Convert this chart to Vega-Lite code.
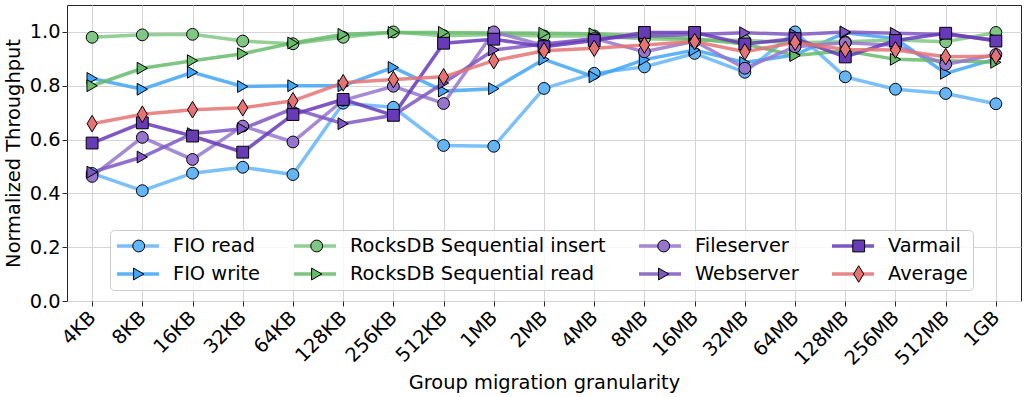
{
  "$schema": "https://vega.github.io/schema/vega-lite/v6.json",
  "width": 954,
  "height": 296,
  "autosize": {"type": "none"},
  "padding": {"left": 67, "top": 5, "right": 3, "bottom": 96},
  "config": {
    "font": "DejaVu Sans",
    "view": {"stroke": "#262626", "strokeWidth": 1},
    "axis": {
      "labelFont": "DejaVu Sans",
      "titleFont": "DejaVu Sans",
      "labelFontSize": 19.4,
      "titleFontSize": 19.4,
      "titleFontWeight": "normal",
      "labelColor": "#000000",
      "titleColor": "#000000",
      "gridColor": "#d4d4d4",
      "gridWidth": 1,
      "tickColor": "#262626",
      "tickSize": 5,
      "domain": false
    }
  },
  "data": {
    "values": [
      {"granularity": "4KB", "workload": "FIO read", "throughput": 0.474},
      {"granularity": "8KB", "workload": "FIO read", "throughput": 0.41},
      {"granularity": "16KB", "workload": "FIO read", "throughput": 0.475},
      {"granularity": "32KB", "workload": "FIO read", "throughput": 0.497},
      {"granularity": "64KB", "workload": "FIO read", "throughput": 0.47},
      {"granularity": "128KB", "workload": "FIO read", "throughput": 0.735},
      {"granularity": "256KB", "workload": "FIO read", "throughput": 0.72},
      {"granularity": "512KB", "workload": "FIO read", "throughput": 0.578},
      {"granularity": "1MB", "workload": "FIO read", "throughput": 0.575},
      {"granularity": "2MB", "workload": "FIO read", "throughput": 0.79},
      {"granularity": "4MB", "workload": "FIO read", "throughput": 0.846},
      {"granularity": "8MB", "workload": "FIO read", "throughput": 0.87},
      {"granularity": "16MB", "workload": "FIO read", "throughput": 0.92},
      {"granularity": "32MB", "workload": "FIO read", "throughput": 0.85},
      {"granularity": "64MB", "workload": "FIO read", "throughput": 1.0},
      {"granularity": "128MB", "workload": "FIO read", "throughput": 0.833},
      {"granularity": "256MB", "workload": "FIO read", "throughput": 0.787},
      {"granularity": "512MB", "workload": "FIO read", "throughput": 0.771},
      {"granularity": "1GB", "workload": "FIO read", "throughput": 0.733},

      {"granularity": "4KB", "workload": "FIO write", "throughput": 0.827},
      {"granularity": "8KB", "workload": "FIO write", "throughput": 0.787},
      {"granularity": "16KB", "workload": "FIO write", "throughput": 0.85},
      {"granularity": "32KB", "workload": "FIO write", "throughput": 0.797},
      {"granularity": "64KB", "workload": "FIO write", "throughput": 0.8},
      {"granularity": "128KB", "workload": "FIO write", "throughput": 0.8},
      {"granularity": "256KB", "workload": "FIO write", "throughput": 0.868},
      {"granularity": "512KB", "workload": "FIO write", "throughput": 0.78},
      {"granularity": "1MB", "workload": "FIO write", "throughput": 0.789},
      {"granularity": "2MB", "workload": "FIO write", "throughput": 0.898},
      {"granularity": "4MB", "workload": "FIO write", "throughput": 0.833},
      {"granularity": "8MB", "workload": "FIO write", "throughput": 0.897},
      {"granularity": "16MB", "workload": "FIO write", "throughput": 0.933},
      {"granularity": "32MB", "workload": "FIO write", "throughput": 0.886},
      {"granularity": "64MB", "workload": "FIO write", "throughput": 0.915},
      {"granularity": "128MB", "workload": "FIO write", "throughput": 0.997},
      {"granularity": "256MB", "workload": "FIO write", "throughput": 0.975},
      {"granularity": "512MB", "workload": "FIO write", "throughput": 0.846},
      {"granularity": "1GB", "workload": "FIO write", "throughput": 0.9},

      {"granularity": "4KB", "workload": "RocksDB Sequential insert", "throughput": 0.98},
      {"granularity": "8KB", "workload": "RocksDB Sequential insert", "throughput": 0.989},
      {"granularity": "16KB", "workload": "RocksDB Sequential insert", "throughput": 0.991},
      {"granularity": "32KB", "workload": "RocksDB Sequential insert", "throughput": 0.966},
      {"granularity": "64KB", "workload": "RocksDB Sequential insert", "throughput": 0.956},
      {"granularity": "128KB", "workload": "RocksDB Sequential insert", "throughput": 0.98},
      {"granularity": "256KB", "workload": "RocksDB Sequential insert", "throughput": 1.0},
      {"granularity": "512KB", "workload": "RocksDB Sequential insert", "throughput": 0.986},
      {"granularity": "1MB", "workload": "RocksDB Sequential insert", "throughput": 0.99},
      {"granularity": "2MB", "workload": "RocksDB Sequential insert", "throughput": 0.985},
      {"granularity": "4MB", "workload": "RocksDB Sequential insert", "throughput": 0.985},
      {"granularity": "8MB", "workload": "RocksDB Sequential insert", "throughput": 0.975},
      {"granularity": "16MB", "workload": "RocksDB Sequential insert", "throughput": 0.97},
      {"granularity": "32MB", "workload": "RocksDB Sequential insert", "throughput": 0.968},
      {"granularity": "64MB", "workload": "RocksDB Sequential insert", "throughput": 0.96},
      {"granularity": "128MB", "workload": "RocksDB Sequential insert", "throughput": 0.963},
      {"granularity": "256MB", "workload": "RocksDB Sequential insert", "throughput": 0.97},
      {"granularity": "512MB", "workload": "RocksDB Sequential insert", "throughput": 0.963},
      {"granularity": "1GB", "workload": "RocksDB Sequential insert", "throughput": 0.998},

      {"granularity": "4KB", "workload": "RocksDB Sequential read", "throughput": 0.8},
      {"granularity": "8KB", "workload": "RocksDB Sequential read", "throughput": 0.865},
      {"granularity": "16KB", "workload": "RocksDB Sequential read", "throughput": 0.893},
      {"granularity": "32KB", "workload": "RocksDB Sequential read", "throughput": 0.919},
      {"granularity": "64KB", "workload": "RocksDB Sequential read", "throughput": 0.959},
      {"granularity": "128KB", "workload": "RocksDB Sequential read", "throughput": 0.991},
      {"granularity": "256KB", "workload": "RocksDB Sequential read", "throughput": 0.998},
      {"granularity": "512KB", "workload": "RocksDB Sequential read", "throughput": 0.998},
      {"granularity": "1MB", "workload": "RocksDB Sequential read", "throughput": 0.996},
      {"granularity": "2MB", "workload": "RocksDB Sequential read", "throughput": 0.995},
      {"granularity": "4MB", "workload": "RocksDB Sequential read", "throughput": 0.993},
      {"granularity": "8MB", "workload": "RocksDB Sequential read", "throughput": 0.985},
      {"granularity": "16MB", "workload": "RocksDB Sequential read", "throughput": 0.975},
      {"granularity": "32MB", "workload": "RocksDB Sequential read", "throughput": 0.955},
      {"granularity": "64MB", "workload": "RocksDB Sequential read", "throughput": 0.912},
      {"granularity": "128MB", "workload": "RocksDB Sequential read", "throughput": 0.93},
      {"granularity": "256MB", "workload": "RocksDB Sequential read", "throughput": 0.898},
      {"granularity": "512MB", "workload": "RocksDB Sequential read", "throughput": 0.893},
      {"granularity": "1GB", "workload": "RocksDB Sequential read", "throughput": 0.887},

      {"granularity": "4KB", "workload": "Fileserver", "throughput": 0.463},
      {"granularity": "8KB", "workload": "Fileserver", "throughput": 0.608},
      {"granularity": "16KB", "workload": "Fileserver", "throughput": 0.526},
      {"granularity": "32KB", "workload": "Fileserver", "throughput": 0.65},
      {"granularity": "64KB", "workload": "Fileserver", "throughput": 0.591},
      {"granularity": "128KB", "workload": "Fileserver", "throughput": 0.746},
      {"granularity": "256KB", "workload": "Fileserver", "throughput": 0.798},
      {"granularity": "512KB", "workload": "Fileserver", "throughput": 0.734},
      {"granularity": "1MB", "workload": "Fileserver", "throughput": 1.0},
      {"granularity": "2MB", "workload": "Fileserver", "throughput": 0.95},
      {"granularity": "4MB", "workload": "Fileserver", "throughput": 0.975},
      {"granularity": "8MB", "workload": "Fileserver", "throughput": 0.926},
      {"granularity": "16MB", "workload": "Fileserver", "throughput": 0.965},
      {"granularity": "32MB", "workload": "Fileserver", "throughput": 0.865},
      {"granularity": "64MB", "workload": "Fileserver", "throughput": 0.945},
      {"granularity": "128MB", "workload": "Fileserver", "throughput": 0.96},
      {"granularity": "256MB", "workload": "Fileserver", "throughput": 0.95},
      {"granularity": "512MB", "workload": "Fileserver", "throughput": 0.879},
      {"granularity": "1GB", "workload": "Fileserver", "throughput": 0.916},

      {"granularity": "4KB", "workload": "Webserver", "throughput": 0.479},
      {"granularity": "8KB", "workload": "Webserver", "throughput": 0.535},
      {"granularity": "16KB", "workload": "Webserver", "throughput": 0.622},
      {"granularity": "32KB", "workload": "Webserver", "throughput": 0.64},
      {"granularity": "64KB", "workload": "Webserver", "throughput": 0.715},
      {"granularity": "128KB", "workload": "Webserver", "throughput": 0.659},
      {"granularity": "256KB", "workload": "Webserver", "throughput": 0.69},
      {"granularity": "512KB", "workload": "Webserver", "throughput": 0.81},
      {"granularity": "1MB", "workload": "Webserver", "throughput": 0.933},
      {"granularity": "2MB", "workload": "Webserver", "throughput": 0.955},
      {"granularity": "4MB", "workload": "Webserver", "throughput": 0.975},
      {"granularity": "8MB", "workload": "Webserver", "throughput": 0.985},
      {"granularity": "16MB", "workload": "Webserver", "throughput": 0.99},
      {"granularity": "32MB", "workload": "Webserver", "throughput": 0.997},
      {"granularity": "64MB", "workload": "Webserver", "throughput": 0.99},
      {"granularity": "128MB", "workload": "Webserver", "throughput": 1.0},
      {"granularity": "256MB", "workload": "Webserver", "throughput": 0.995},
      {"granularity": "512MB", "workload": "Webserver", "throughput": 0.99},
      {"granularity": "1GB", "workload": "Webserver", "throughput": 0.97},

      {"granularity": "4KB", "workload": "Varmail", "throughput": 0.587},
      {"granularity": "8KB", "workload": "Varmail", "throughput": 0.662},
      {"granularity": "16KB", "workload": "Varmail", "throughput": 0.613},
      {"granularity": "32KB", "workload": "Varmail", "throughput": 0.553},
      {"granularity": "64KB", "workload": "Varmail", "throughput": 0.693},
      {"granularity": "128KB", "workload": "Varmail", "throughput": 0.749},
      {"granularity": "256KB", "workload": "Varmail", "throughput": 0.69},
      {"granularity": "512KB", "workload": "Varmail", "throughput": 0.958},
      {"granularity": "1MB", "workload": "Varmail", "throughput": 0.973},
      {"granularity": "2MB", "workload": "Varmail", "throughput": 0.945},
      {"granularity": "4MB", "workload": "Varmail", "throughput": 0.968},
      {"granularity": "8MB", "workload": "Varmail", "throughput": 0.998},
      {"granularity": "16MB", "workload": "Varmail", "throughput": 0.998},
      {"granularity": "32MB", "workload": "Varmail", "throughput": 0.955},
      {"granularity": "64MB", "workload": "Varmail", "throughput": 0.975},
      {"granularity": "128MB", "workload": "Varmail", "throughput": 0.907},
      {"granularity": "256MB", "workload": "Varmail", "throughput": 0.968},
      {"granularity": "512MB", "workload": "Varmail", "throughput": 0.995},
      {"granularity": "1GB", "workload": "Varmail", "throughput": 0.966},

      {"granularity": "4KB", "workload": "Average", "throughput": 0.659},
      {"granularity": "8KB", "workload": "Average", "throughput": 0.694},
      {"granularity": "16KB", "workload": "Average", "throughput": 0.711},
      {"granularity": "32KB", "workload": "Average", "throughput": 0.718},
      {"granularity": "64KB", "workload": "Average", "throughput": 0.744},
      {"granularity": "128KB", "workload": "Average", "throughput": 0.811},
      {"granularity": "256KB", "workload": "Average", "throughput": 0.823},
      {"granularity": "512KB", "workload": "Average", "throughput": 0.833},
      {"granularity": "1MB", "workload": "Average", "throughput": 0.893},
      {"granularity": "2MB", "workload": "Average", "throughput": 0.93},
      {"granularity": "4MB", "workload": "Average", "throughput": 0.939},
      {"granularity": "8MB", "workload": "Average", "throughput": 0.951},
      {"granularity": "16MB", "workload": "Average", "throughput": 0.964},
      {"granularity": "32MB", "workload": "Average", "throughput": 0.926},
      {"granularity": "64MB", "workload": "Average", "throughput": 0.961},
      {"granularity": "128MB", "workload": "Average", "throughput": 0.935},
      {"granularity": "256MB", "workload": "Average", "throughput": 0.933},
      {"granularity": "512MB", "workload": "Average", "throughput": 0.908},
      {"granularity": "1GB", "workload": "Average", "throughput": 0.91}
    ]
  },
  "encoding": {
    "x": {
      "field": "granularity",
      "type": "ordinal",
      "sort": ["4KB", "8KB", "16KB", "32KB", "64KB", "128KB", "256KB", "512KB", "1MB", "2MB", "4MB", "8MB", "16MB", "32MB", "64MB", "128MB", "256MB", "512MB", "1GB"],
      "scale": {"type": "point", "padding": 0.5},
      "axis": {
        "title": "Group migration granularity",
        "labelAngle": -45,
        "labelAlign": "right",
        "labelBaseline": "middle",
        "labelPadding": 8,
        "labelDx": 17,
        "titlePadding": 5,
        "grid": true
      }
    },
    "y": {
      "field": "throughput",
      "type": "quantitative",
      "scale": {"domain": [0, 1.1], "nice": false},
      "axis": {
        "title": "Normalized Throughput",
        "values": [0, 0.2, 0.4, 0.6, 0.8, 1.0],
        "format": ".1f",
        "labelPadding": 2,
        "titlePadding": 6,
        "grid": true
      }
    }
  },
  "layer": [
    {
      "mark": {"type": "line", "strokeWidth": 3.5, "opacity": 0.85},
      "encoding": {
        "stroke": {
          "field": "workload",
          "type": "nominal",
          "sort": ["FIO read", "FIO write", "RocksDB Sequential insert", "RocksDB Sequential read", "Fileserver", "Webserver", "Varmail", "Average"],
          "scale": {
            "range": ["#64B5F6", "#42A5F5", "#81C784", "#66BB6A", "#9575CD", "#7E57C2", "#673AB7", "#E57373"]
          },
          "legend": {
            "title": null,
            "orient": "none",
            "direction": "vertical",
            "legendX": 43,
            "legendY": 225,
            "columns": 4,
            "symbolType": "stroke",
            "symbolSize": 1764,
            "symbolStrokeWidth": 3.5,
            "symbolOpacity": 0.85,
            "labelFont": "DejaVu Sans",
            "labelFontSize": 19.4,
            "labelColor": "#000000",
            "labelLimit": 400,
            "labelOffset": 12,
            "columnPadding": 31,
            "rowPadding": 6,
            "clipHeight": 22,
            "padding": 5,
            "fillColor": "rgba(255,255,255,0.8)",
            "strokeColor": "#cccccc",
            "cornerRadius": 4
          }
        }
      }
    },
    {
      "mark": {"type": "point", "filled": true, "stroke": "#000000", "strokeWidth": 1, "opacity": 1, "size": 140},
      "encoding": {
        "shape": {
          "field": "workload",
          "type": "nominal",
          "scale": {
            "domain": ["FIO read", "FIO write", "RocksDB Sequential insert", "RocksDB Sequential read", "Fileserver", "Webserver", "Varmail", "Average"],
            "range": ["circle", "triangle-right", "circle", "triangle-right", "circle", "triangle-right", "square", "M0,-1.4L0.85,0L0,1.4L-0.85,0Z"]
          },
          "legend": {
            "title": null,
            "orient": "none",
            "direction": "vertical",
            "legendX": 57,
            "legendY": 225,
            "columns": 4,
            "symbolSize": 140,
            "symbolStrokeColor": "#000000",
            "symbolStrokeWidth": 1,
            "symbolOpacity": 1,
            "labelFont": "DejaVu Sans",
            "labelFontSize": 19.4,
            "labelOpacity": 0,
            "labelLimit": 400,
            "labelOffset": 40,
            "columnPadding": 31,
            "rowPadding": 6,
            "clipHeight": 22,
            "padding": 5,
            "encode": {
              "symbols": {
                "update": {
                  "stroke": {"value": "#000000"},
                  "strokeWidth": {"value": 1}
                }
              }
            }
          }
        },
        "fill": {
          "field": "workload",
          "type": "nominal",
          "scale": {
            "domain": ["FIO read", "FIO write", "RocksDB Sequential insert", "RocksDB Sequential read", "Fileserver", "Webserver", "Varmail", "Average"],
            "range": ["#64B5F6", "#42A5F5", "#81C784", "#66BB6A", "#9575CD", "#7E57C2", "#673AB7", "#E57373"]
          },
          "legend": {
            "title": null,
            "orient": "none",
            "direction": "vertical",
            "legendX": 57,
            "legendY": 225,
            "columns": 4,
            "symbolSize": 140,
            "symbolStrokeColor": "#000000",
            "symbolStrokeWidth": 1,
            "symbolOpacity": 1,
            "labelFont": "DejaVu Sans",
            "labelFontSize": 19.4,
            "labelOpacity": 0,
            "labelLimit": 400,
            "labelOffset": 40,
            "columnPadding": 31,
            "rowPadding": 6,
            "clipHeight": 22,
            "padding": 5,
            "encode": {
              "symbols": {
                "update": {
                  "stroke": {"value": "#000000"},
                  "strokeWidth": {"value": 1}
                }
              }
            }
          }
        }
      }
    }
  ]
}
